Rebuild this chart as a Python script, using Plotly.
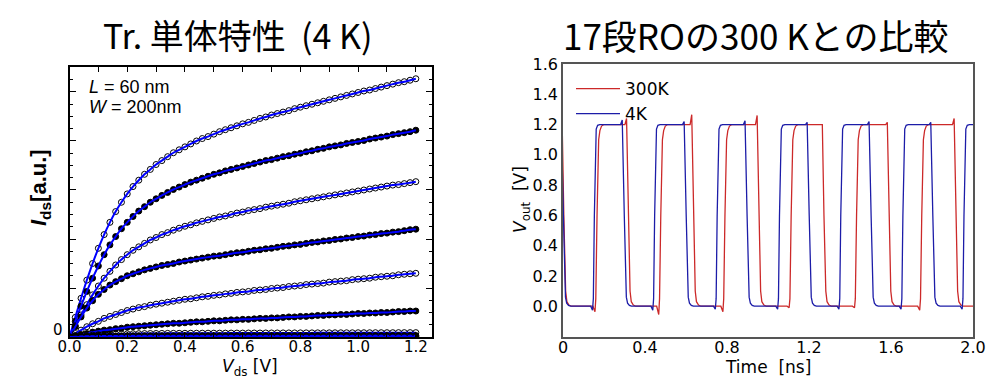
import plotly.graph_objects as go

# ---------------- Left panel data: Ids-Vds (a.u.), 4 K ----------------
vds = [0.00, 0.02, 0.04, 0.06, 0.08, 0.10, 0.12, 0.14, 0.16, 0.18,
       0.20, 0.22, 0.24, 0.26, 0.28, 0.30, 0.32, 0.34, 0.36, 0.38,
       0.40, 0.42, 0.44, 0.46, 0.48, 0.50, 0.52, 0.54, 0.56, 0.58,
       0.60, 0.62, 0.64, 0.66, 0.68, 0.70, 0.72, 0.74, 0.76, 0.78,
       0.80, 0.82, 0.84, 0.86, 0.88, 0.90, 0.92, 0.94, 0.96, 0.98,
       1.00, 1.02, 1.04, 1.06, 1.08, 1.10, 1.12, 1.14, 1.16, 1.18, 1.20]

ids_1 = [0, 0.40, 0.79, 1.16, 1.50, 1.81, 2.09, 2.34, 2.56, 2.75, 2.92, 3.07, 3.20, 3.32, 3.42, 3.52,
         3.60, 3.68, 3.76, 3.82, 3.88, 3.94, 4.00, 4.05, 4.09, 4.14, 4.19, 4.23, 4.27, 4.31, 4.35,
         4.38, 4.42, 4.46, 4.49, 4.53, 4.56, 4.59, 4.62, 4.66, 4.69, 4.72, 4.75, 4.78, 4.81, 4.84,
         4.87, 4.90, 4.93, 4.96, 4.99, 5.02, 5.04, 5.07, 5.10, 5.13, 5.16, 5.19, 5.21, 5.24, 5.27]
ids_2 = [0, 0.32, 0.63, 0.93, 1.20, 1.45, 1.68, 1.88, 2.05, 2.21, 2.34, 2.46, 2.57, 2.66, 2.75, 2.82,
         2.89, 2.95, 3.01, 3.06, 3.11, 3.16, 3.20, 3.24, 3.28, 3.32, 3.35, 3.39, 3.42, 3.45, 3.48,
         3.51, 3.54, 3.57, 3.60, 3.62, 3.65, 3.68, 3.70, 3.73, 3.75, 3.78, 3.80, 3.83, 3.85, 3.88,
         3.90, 3.92, 3.95, 3.97, 3.99, 4.01, 4.04, 4.06, 4.08, 4.10, 4.13, 4.15, 4.17, 4.19, 4.22]
ids_3 = [0, 0.23, 0.45, 0.66, 0.86, 1.04, 1.20, 1.34, 1.47, 1.58, 1.68, 1.77, 1.84, 1.91, 1.98, 2.03,
         2.09, 2.13, 2.18, 2.22, 2.26, 2.29, 2.33, 2.36, 2.39, 2.42, 2.45, 2.47, 2.50, 2.53, 2.55,
         2.58, 2.60, 2.62, 2.65, 2.67, 2.69, 2.71, 2.73, 2.76, 2.78, 2.80, 2.82, 2.84, 2.86, 2.88,
         2.90, 2.92, 2.94, 2.96, 2.98, 3.00, 3.02, 3.04, 3.06, 3.08, 3.10, 3.11, 3.13, 3.15, 3.17]
ids_4 = [0, 0.21, 0.41, 0.59, 0.74, 0.87, 0.97, 1.06, 1.13, 1.19, 1.25, 1.29, 1.33, 1.37, 1.40, 1.43,
         1.46, 1.48, 1.50, 1.53, 1.55, 1.57, 1.59, 1.61, 1.63, 1.65, 1.66, 1.68, 1.70, 1.72, 1.73,
         1.75, 1.77, 1.78, 1.80, 1.81, 1.83, 1.85, 1.86, 1.88, 1.89, 1.91, 1.93, 1.94, 1.96, 1.97,
         1.99, 2.00, 2.02, 2.03, 2.05, 2.06, 2.08, 2.09, 2.11, 2.12, 2.14, 2.15, 2.17, 2.19, 2.20]
ids_5 = [0, 0.07, 0.14, 0.21, 0.27, 0.32, 0.38, 0.42, 0.46, 0.50, 0.54, 0.57, 0.60, 0.62, 0.65, 0.67,
         0.69, 0.71, 0.73, 0.75, 0.77, 0.78, 0.80, 0.82, 0.83, 0.85, 0.86, 0.88, 0.89, 0.91, 0.92,
         0.93, 0.95, 0.96, 0.97, 0.99, 1.00, 1.01, 1.03, 1.04, 1.05, 1.07, 1.08, 1.09, 1.10, 1.12,
         1.13, 1.14, 1.15, 1.17, 1.18, 1.19, 1.20, 1.22, 1.23, 1.24, 1.25, 1.27, 1.28, 1.29, 1.30]
ids_6 = [0, 0.03, 0.05, 0.07, 0.10, 0.12, 0.14, 0.15, 0.17, 0.18, 0.20, 0.21, 0.22, 0.23, 0.24, 0.25,
         0.26, 0.27, 0.28, 0.28, 0.29, 0.30, 0.31, 0.31, 0.32, 0.33, 0.33, 0.34, 0.35, 0.35, 0.36,
         0.36, 0.37, 0.38, 0.38, 0.39, 0.39, 0.40, 0.41, 0.41, 0.42, 0.42, 0.43, 0.44, 0.44, 0.45,
         0.45, 0.46, 0.46, 0.47, 0.48, 0.48, 0.49, 0.49, 0.50, 0.50, 0.51, 0.52, 0.52, 0.53, 0.53]
ids_7 = [0, 0.011, 0.022, 0.031, 0.040, 0.046, 0.052, 0.056, 0.060, 0.062, 0.065, 0.067, 0.068, 0.070,
         0.071, 0.072, 0.073, 0.074, 0.075, 0.075, 0.076, 0.077, 0.077, 0.078, 0.078, 0.078, 0.079,
         0.079, 0.080, 0.080, 0.080, 0.081, 0.081, 0.081, 0.082, 0.082, 0.082, 0.083, 0.083, 0.083,
         0.084, 0.084, 0.084, 0.085, 0.085, 0.085, 0.086, 0.086, 0.086, 0.086, 0.087, 0.087, 0.087,
         0.088, 0.088, 0.088, 0.088, 0.089, 0.089, 0.089, 0.089]
ids_8 = [0, 0.005, 0.009, 0.013, 0.016, 0.018, 0.020, 0.021, 0.022, 0.023, 0.024, 0.024, 0.025, 0.025,
         0.025, 0.026, 0.026, 0.026, 0.026, 0.026, 0.026, 0.026, 0.026, 0.026, 0.026, 0.026, 0.027,
         0.027, 0.027, 0.027, 0.027, 0.027, 0.027, 0.027, 0.027, 0.027, 0.028, 0.028, 0.028, 0.028,
         0.028, 0.028, 0.028, 0.028, 0.028, 0.028, 0.029, 0.029, 0.029, 0.029, 0.029, 0.029, 0.029,
         0.029, 0.029, 0.029, 0.030, 0.030, 0.030, 0.030, 0.030]
ids_9 = [0, 0.002, 0.003, 0.004, 0.005, 0.005, 0.006, 0.006, 0.006, 0.007, 0.007, 0.007, 0.007, 0.007,
         0.007, 0.007, 0.007, 0.007, 0.007, 0.007, 0.007, 0.007, 0.007, 0.007, 0.007, 0.007, 0.007,
         0.007, 0.007, 0.007, 0.007, 0.007, 0.007, 0.007, 0.007, 0.007, 0.007, 0.007, 0.007, 0.007,
         0.007, 0.007, 0.007, 0.007, 0.007, 0.007, 0.007, 0.007, 0.007, 0.007, 0.007, 0.007, 0.007,
         0.007, 0.007, 0.007, 0.007, 0.007, 0.007, 0.007, 0.007]

iv_curves = [ids_1, ids_2, ids_3, ids_4, ids_5, ids_6, ids_7, ids_8, ids_9]
iv_filled = [False, True, False, True, False, True, False, True, False]

# ---------------- Right panel data: 17-stage RO output edges (ns, V) ----------------
# 4 K
rise_4k = [0.153, 0.447, 0.752, 1.056, 1.355, 1.658, 1.956]
dip_4k = [-0.026, -0.026, -0.020, -0.020, -0.020, -0.020, -0.020]
fall_4k = [0.002, 0.299, 0.601, 0.898, 1.201, 1.503, 1.804]
peak_4k = [1.20, 1.230, 1.220, 1.225, 1.215, 1.220, 1.215]
# 300 K
rise_300k = [0.166, 0.477, 0.790, 1.113, 1.432, 1.750]
dip_300k = [-0.037, -0.055, -0.037, -0.010, -0.010, -0.026]
fall_300k = [0.004, 0.318, 0.636, 0.955, 1.273, 1.590, 1.916]
peak_300k = [1.20, 1.240, 1.265, 1.260, 1.200, 1.215, 1.240]
t_end = 2.0

# edge shapes (time offset from edge, level; None = per-edge peak/dip)
rise_shape_4k = [(-0.018, 0.0), (-0.009, None), (-0.005, 0.05), (0.0, 0.6), (0.005, 1.12),
                 (0.009, 1.17), (0.016, 1.195), (0.026, 1.2)]
fall_shape_4k = [(-0.018, 1.2), (-0.010, None), (0.0, 0.6), (0.010, 0.06), (0.016, 0.02),
                 (0.025, 0.005), (0.035, 0.0)]
rise_shape_300k = [(-0.020, 0.0), (-0.010, None), (-0.006, 0.05), (0.0, 0.6), (0.004, 0.95),
                   (0.008, 1.10), (0.014, 1.16), (0.022, 1.19), (0.034, 1.2)]
fall_shape_300k = [(-0.016, 1.2), (-0.008, None), (0.0, 0.6), (0.009, 0.10), (0.015, 0.03),
                   (0.025, 0.008), (0.037, 0.0)]


def waveform(rises, dips, falls, peaks, rshape, fshape, tend):
    ev = [(t, rshape, v) for t, v in zip(rises, dips)] + [(t, fshape, v) for t, v in zip(falls, peaks)]
    ev.sort(key=lambda e: e[0])
    ts, vs = [], []
    for t, shape, ext in ev:
        for dt, lv in shape:
            ts.append(t + dt)
            vs.append(ext if lv is None else lv)
    ts.append(tend)
    vs.append(vs[-1])
    return ts, vs


t4, v4 = waveform(rise_4k, dip_4k, fall_4k, peak_4k, rise_shape_4k, fall_shape_4k, t_end)
t3, v3 = waveform(rise_300k, dip_300k, fall_300k, peak_300k, rise_shape_300k, fall_shape_300k, t_end)

# ---------------- Figure ----------------
W, H = 991, 379
fig = go.Figure()

for ys, filled in zip(iv_curves, iv_filled):
    fig.add_trace(go.Scatter(
        x=vds, y=ys, mode="markers", xaxis="x", yaxis="y", showlegend=False,
        marker=dict(symbol="circle" if filled else "circle-open", size=6,
                    color="black", line=dict(color="black", width=1)),
        hoverinfo="skip"))
    fig.add_trace(go.Scatter(
        x=vds, y=ys, mode="lines", xaxis="x", yaxis="y", showlegend=False,
        line=dict(color="#0000FF", width=2, shape="spline", smoothing=0.6),
        hoverinfo="skip"))

fig.add_trace(go.Scatter(x=t3, y=v3, mode="lines", name="300K", xaxis="x2", yaxis="y2",
                         line=dict(color="#CC2929", width=1.3), legendgroup="a"))
fig.add_trace(go.Scatter(x=t4, y=v4, mode="lines", name="4K", xaxis="x2", yaxis="y2",
                         line=dict(color="#1C1CA8", width=1.3), legendgroup="b"))


def px(x):
    return x / W


def py(y):
    return 1 - y / H


tick_font = dict(family="DejaVu Sans", size=15, color="black")
fig.update_layout(
    width=W, height=H, margin=dict(l=0, r=0, t=0, b=0, autoexpand=False),
    paper_bgcolor="white", plot_bgcolor="white",
    font=dict(family="DejaVu Sans", color="black"),
    xaxis=dict(domain=[px(69.5), px(432)], range=[0, 1.256], anchor="y", automargin=False,
               tickvals=[0, 0.2, 0.4, 0.6, 0.8, 1.0, 1.2],
               ticktext=["0.0", "0.2", "0.4", "0.6", "0.8", "1.0", "1.2"],
               ticks="inside", ticklen=5, tickwidth=1, tickcolor="black", ticklabelstandoff=-5,
               minor=dict(dtick=0.1, ticks="inside", ticklen=5, tickcolor="black"),
               showline=True, linecolor="black", linewidth=2, mirror="allticks",
               showgrid=False, zeroline=False, tickfont=tick_font),
    yaxis=dict(domain=[py(337), py(67)], range=[0, 5.51], anchor="x", automargin=False,
               tickvals=[0, 1, 2, 3, 4, 5], showticklabels=False,
               ticks="inside", ticklen=6, tickwidth=1, tickcolor="black",
               minor=dict(dtick=0.25, ticks="inside", ticklen=3, tickcolor="black"),
               showline=True, linecolor="black", linewidth=2, mirror="allticks",
               showgrid=False, zeroline=False),
    xaxis2=dict(domain=[px(563), px(973)], range=[0, 2.0], anchor="y2", automargin=False,
                tickvals=[0, 0.4, 0.8, 1.2, 1.6, 2.0],
                ticktext=["0", "0.4", "0.8", "1.2", "1.6", "2.0"],
                ticks="", ticklabelstandoff=-4,
                showline=True, linecolor="#555555", linewidth=1.5, mirror=True,
                showgrid=False, zeroline=False,
                tickfont=dict(family="DejaVu Sans", size=16, color="black")),
    yaxis2=dict(domain=[py(336.5), py(64)], range=[-0.2, 1.6], anchor="x2", automargin=False,
                tickvals=[0, 0.2, 0.4, 0.6, 0.8, 1.0, 1.2, 1.4, 1.6],
                ticktext=["0.0", "0.2", "0.4", "0.6", "0.8", "1.0", "1.2", "1.4", "1.6"],
                ticks="", showline=True, linecolor="#555555", linewidth=1.5, mirror=True,
                showgrid=False, zeroline=False,
                tickfont=dict(family="DejaVu Sans", size=16, color="black")),
    legend=dict(x=px(571), y=py(71), xanchor="left", yanchor="top", itemwidth=44,
                bgcolor="rgba(0,0,0,0)", borderwidth=0, tracegroupgap=0,
                font=dict(family="DejaVu Sans", size=17, color="black")),
    showlegend=True,
)

cjk = "Noto Sans CJK JP"
ann = [
    dict(x=px(237), y=py(34), text="Tr.\u00a0単体特性\u00a0\u00a0(4\u00a0K)",
         font=dict(family=cjk, size=34, color="black")),
    dict(x=px(755), y=py(34), text="17段ROの300 Kとの比較", font=dict(family=cjk, size=35, color="black")),
    dict(x=px(40), y=py(188), text="<b><i>I</i><sub>ds</sub>[a.u.]</b>", textangle=-90,
         font=dict(family="Liberation Sans", size=22, color="black")),
    dict(x=px(250), y=py(367), text="<i>V</i><sub>ds</sub> [V]",
         font=dict(family="DejaVu Sans", size=17, color="black")),
    dict(x=px(87), y=py(87), text="<i>L</i> = 60 nm", xanchor="left",
         font=dict(family="Liberation Sans", size=18, color="black")),
    dict(x=px(87), y=py(107), text="<i>W</i> = 200nm", xanchor="left",
         font=dict(family="Liberation Sans", size=18, color="black")),
    dict(x=px(521), y=py(200), text="<i>V</i><sub>out</sub>\u00a0\u00a0[V]", textangle=-90,
         font=dict(family="DejaVu Sans", size=17, color="black")),
    dict(x=px(768), y=py(367), text="Time\u00a0\u00a0[ns]",
         font=dict(family="DejaVu Sans", size=17, color="black")),
]
for a in ann:
    a.setdefault("xanchor", "center")
    a.update(xref="paper", yref="paper", yanchor="middle", showarrow=False)
# the single "0" label of the left y axis, placed at data value 0
ann.append(dict(x=px(65), y=0, xref="paper", yref="y", text="0", xanchor="right", yanchor="bottom",
                yshift=-4, showarrow=False, font=dict(family="DejaVu Sans", size=15, color="black")))
fig.update_layout(annotations=ann)

fig.write_html("out.html", config={"displayModeBar": False},
               post_script="document.body.style.margin='0';document.body.style.padding='0';")
